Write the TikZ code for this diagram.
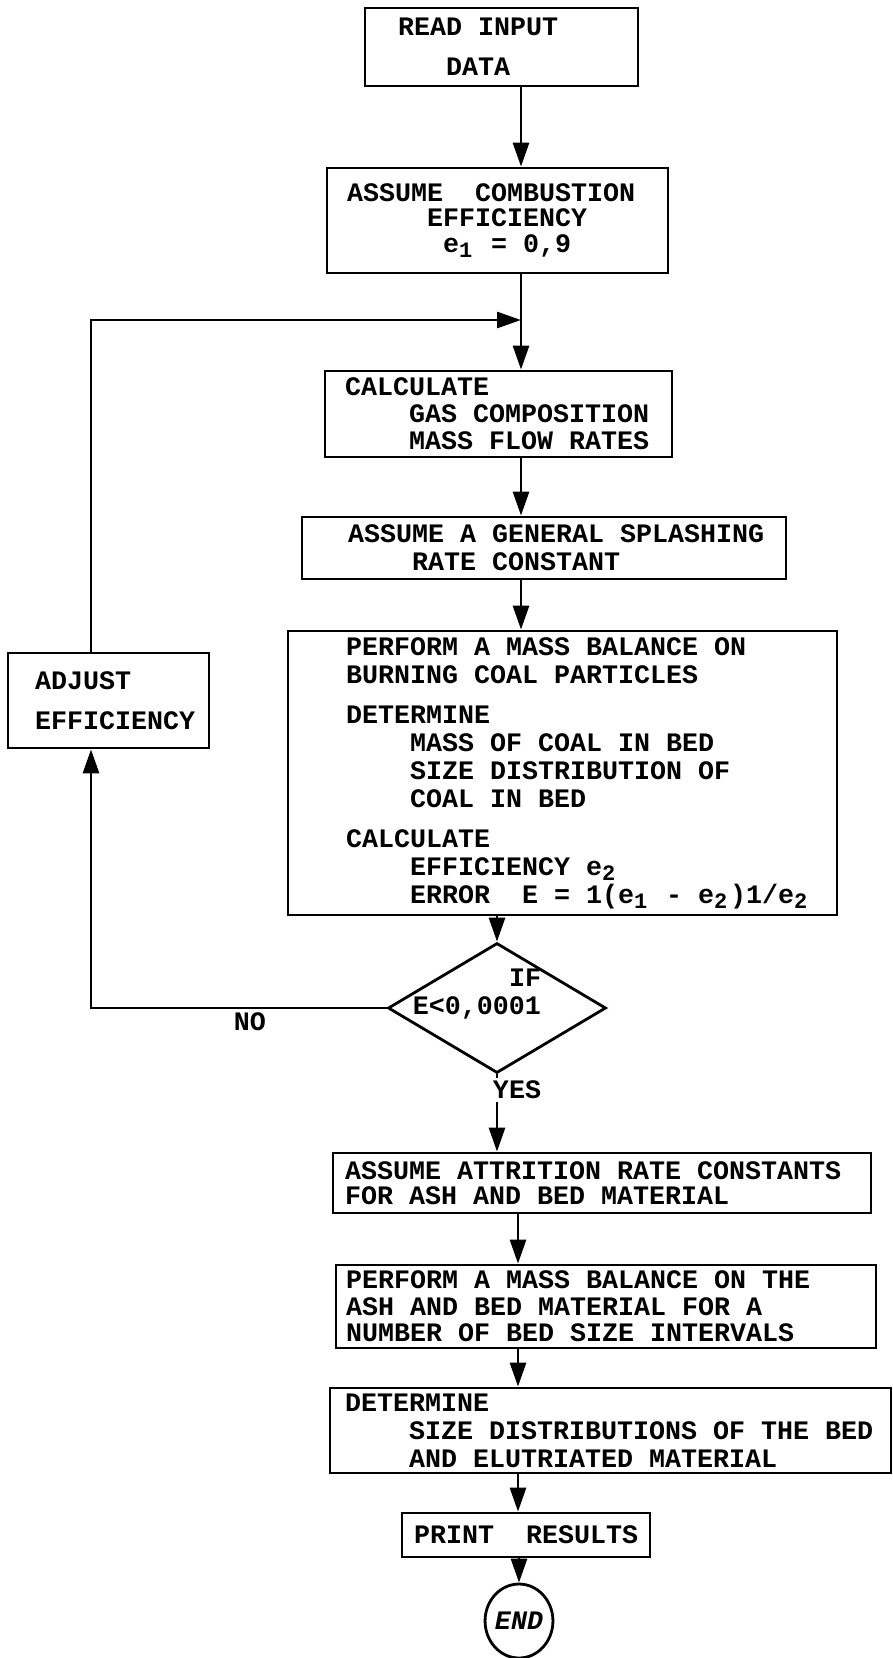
\documentclass[tikz,border=0pt]{standalone}
\usepackage{fontspec}
\setmonofont{Liberation Mono}
\usepackage{tikz}
\usetikzlibrary{positioning, arrows.meta, shapes.geometric}

\newcommand{\tw}{\ttfamily\bfseries\fontsize{26.67pt}{28pt}\selectfont\hyphenpenalty=10000\relax}
\newcommand{\lo}[1]{\makebox[16pt][l]{\raisebox{-0.2em}{\fontsize{22pt}{22pt}\selectfont #1}}}

\begin{document}
\begin{tikzpicture}[
    x=1pt, y=-1pt,
    box/.style={draw, line width=2.8pt, inner ysep=0pt, align=left, font=\tw,
                execute at begin node={\spaceskip=0pt\xspaceskip=0pt}},
    decbox/.style={draw, diamond, line width=2.8pt, inner sep=0pt,
                   minimum width=218pt, minimum height=130pt},
    endbox/.style={draw, ellipse, line width=2.8pt, inner sep=0pt,
                   minimum width=66pt, minimum height=74pt, font=\tw\itshape},
    arrow/.style={-{Triangle[length=24pt, width=16pt]}, line width=2.8pt},
    lbl/.style={font=\tw, inner sep=0pt,
                execute at begin node={\spaceskip=0pt\xspaceskip=0pt}},
]
\useasboundingbox (0,0) rectangle (893,1658);

% ── spines of the chart ──────────────────────────────────────────────────
\coordinate (up)   at (521,0);
\coordinate (low)  at (518,0);
\coordinate (back) at (91,0);
\coordinate (join) at (521,320);

% ── Input and first guess ────────────────────────────────────────────────
\node[box, inner xsep=33pt, text width=207pt, minimum height=78pt] (read) at (501.5,47)
    {READ INPUT\\[12pt]~~~DATA};
\node[box, inner xsep=20pt, text width=301pt, minimum height=105pt] (asm) at (497.5,220.5)
    {ASSUME~~COMBUSTION\\[-2.5pt]~~~~~EFFICIENCY\\[-2.5pt]~~~~~~e\lo{1} = 0,9};
\draw[arrow] (read.south -| up) -- (asm.north -| up);

% ── Iteration on the efficiency ──────────────────────────────────────────
\node[box, inner xsep=20pt, text width=307pt, minimum height=86pt] (calc) at (498.5,414)
    {CALCULATE\\[-1pt]~~~~GAS COMPOSITION\\[-1pt]~~~~MASS FLOW RATES};
\draw[arrow] (asm.south -| up) -- (calc.north -| up);

\node[box, inner xsep=46pt, text width=392pt, minimum height=62pt] (splash) at (544,548)
    {ASSUME~A~GENERAL~SPLASHING\\~~~~RATE CONSTANT};
\draw[arrow] (calc.south -| up) -- (splash.north -| up);

\node[box, inner xsep=58pt, text width=433pt, minimum height=284pt] (bal) at (562.5,773)
    {PERFORM A MASS BALANCE ON\\BURNING COAL PARTICLES\\[12pt]
     DETERMINE\\~~~~MASS OF COAL IN BED\\~~~~SIZE DISTRIBUTION OF\\~~~~COAL IN BED\\[12pt]
     CALCULATE\\~~~~EFFICIENCY e\lo{2}\\~~~~ERROR~~E~=~1(e\lo{1}~-~e\lo{2})1/e\lo{2}};
\draw[arrow] (splash.south -| up) -- (bal.north -| up);

\node[decbox, label={[lbl, align=left, xshift=-20pt, yshift=14pt]center:{~~~~~~IF\\E<0,0001}}]
    (dec) at (497,1008) {};
\draw[arrow] (bal.south -| dec.north) -- (dec.north);

% ── Feedback loop ────────────────────────────────────────────────────────
\node[box, inner xsep=27pt, text width=147pt, minimum height=95pt] (adj) at (108.5,700.5)
    {ADJUST\\[12pt]EFFICIENCY};
\draw[arrow] (dec.west) -| (adj.south -| back);
\draw[arrow] (adj.north -| back) |- (join);
\node[lbl] (no) at (250,1022) {NO};

% ── Ash and bed material ─────────────────────────────────────────────────
\node[box, inner xsep=12pt, text width=514pt, minimum height=60pt] (attr) at (602,1183)
    {ASSUME ATTRITION RATE CONSTANTS\\[-3pt]FOR ASH AND BED MATERIAL};
\draw[arrow] (dec.south) -- (dec.south |- attr.north);
\node[lbl, fill=white, inner sep=3pt] (yes) at (517,1090) {YES};

\node[box, inner xsep=10pt, text width=520pt, minimum height=83pt] (ash) at (606,1306.5)
    {PERFORM A MASS BALANCE ON THE\\[-1.5pt]ASH AND BED MATERIAL FOR A\\[-1.5pt]NUMBER OF BED SIZE INTERVALS};
\draw[arrow] (attr.south -| low) -- (ash.north -| low);

\node[box, inner xsep=15pt, text width=531pt, minimum height=85pt] (dist) at (610.5,1430.5)
    {DETERMINE\\~~~~SIZE~DISTRIBUTIONS~OF~THE~BED\\~~~~AND ELUTRIATED MATERIAL};
\draw[arrow] (ash.south -| low) -- (dist.north -| low);

% ── Output ───────────────────────────────────────────────────────────────
\node[box, inner xsep=12pt, text width=224pt, minimum height=44pt] (print) at (526,1535)
    {PRINT~~RESULTS};
\draw[arrow] (dist.south -| low) -- (print.north -| low);

\node[endbox] (fin) at (519,1621) {END};
\draw[arrow] (print.south -| fin.north) -- (fin.north);

\end{tikzpicture}
\end{document}
